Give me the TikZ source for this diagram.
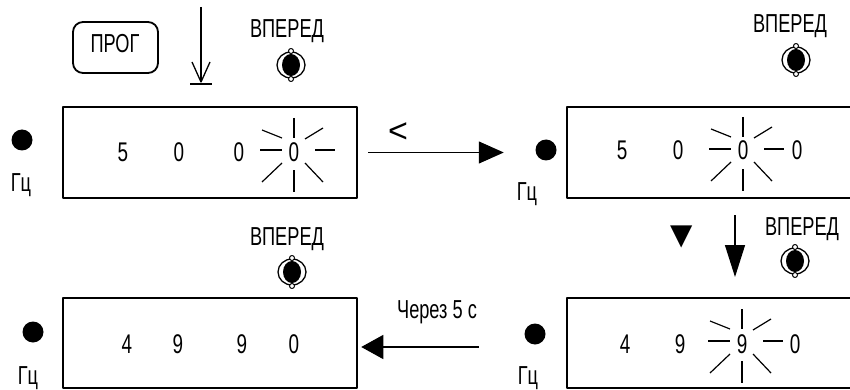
\documentclass[tikz,border=0pt]{standalone}
\usepackage{fontspec}
\setmainfont{Liberation Sans}[FakeStretch=0.7]
\newfontfamily\plainfont{Liberation Sans}
\newfontfamily\symfont{DejaVu Sans}
\usetikzlibrary{arrows.meta}
\newcommand\mysunburst[3]{%
  \begin{scope}[shift={(#1,#2)}, line width=1.2pt]
    \draw (0,-33) -- (0,-13);
    \draw (0,19) -- (0,41);
    \draw[line width=#3] (-34,-1) -- (-12,-1);
    \draw[line width=#3] (21,-1) -- (41,-1);
    \draw (-32,-21) -- (-12,-13);
    \draw (11,-12) -- (29,-23);
    \draw (-32,31) -- (-12,12);
    \draw (11,12) -- (29,31);
  \end{scope}}
\begin{document}
\begin{tikzpicture}[x=1pt,y=-1pt,line join=round,
  lbl/.style={inner sep=0pt,anchor=base,font=\fontsize{26}{30}\selectfont},
  dig/.style={inner sep=0pt,anchor=base,font=\fontsize{27}{30}\selectfont},
  disp/.style={draw,line width=2.5pt,rectangle,inner sep=0pt},
  led/.style={circle,fill,inner sep=0pt,minimum size=21pt},
  keybox/.style={draw,rounded corners=10pt,line width=1.8pt,minimum width=85pt,minimum height=51pt,inner sep=0pt},
  conn/.style={line width=1.3pt},
  vpbtn/.pic={
    \draw[line width=1.3pt] (0,0) ellipse (14pt and 13pt);
    \fill (0,0) ellipse (9pt and 11pt);
    \draw[line width=1pt,fill=white] (0,-14) circle (2.5pt);
    \draw[line width=1pt,fill=white] (0,14) circle (2.5pt);
  }]
\useasboundingbox (0,0) rectangle (850,390);
\clip (0,0) rectangle (850,390);
\fill[white] (0,0) rectangle (850,390);

% displays
\node[disp,minimum width=294pt,minimum height=91pt] (b1) at (210,152.5) {};
\node[disp,minimum width=313pt,minimum height=91pt] (b2) at (723.5,152.5) {};
\node[disp,minimum width=294pt,minimum height=90pt] (b3) at (210,343) {};
\node[disp,minimum width=313pt,minimum height=90pt] (b4) at (723.5,343) {};

% digits
\node[dig] (d11) at (123,161) {5};
\node[dig] (d12) at (179,161) {0};
\node[dig] (d13) at (239,161) {0};
\node[dig] (d14) at (294,161) {0};
\mysunburst{294}{151}{1.2pt}

\node[dig] (d21) at (622,160) {5};
\node[dig] (d22) at (678,160) {0};
\node[dig] (d23) at (743,160) {0};
\node[dig] (d24) at (797,160) {0};
\mysunburst{743}{150}{1.2pt}

\node[dig] (d31) at (127,353) {4};
\node[dig] (d32) at (178,353) {9};
\node[dig] (d33) at (242,353) {9};
\node[dig] (d34) at (294,353) {0};

\node[dig] (d41) at (625,353) {4};
\node[dig] (d42) at (680,353) {9};
\node[dig] (d43) at (742,353) {9};
\node[dig] (d44) at (795,353) {0};
\mysunburst{742}{342}{2.6pt}

% leds and Hz
\node[led] (l1) at (22,140) {};
\node[led] (l2) at (546,150) {};
\node[led] (l3) at (33,332) {};
\node[led] (l4) at (535,334) {};
\node[lbl] (h1) at (21,191) {Гц};
\node[lbl] (h2) at (527,200) {Гц};
\node[lbl] (h3) at (28,384) {Гц};
\node[lbl] (h4) at (528,384) {Гц};

% buttons
\node[lbl] (v1) at (287,38) {ВПЕРЕД};
\pic (bt1) at (291,65) {vpbtn};
\node[lbl] (v2) at (790,33) {ВПЕРЕД};
\pic (bt2) at (796,60) {vpbtn};
\node[lbl] (v3) at (287,245) {ВПЕРЕД};
\pic (bt3) at (292,272) {vpbtn};
\node[lbl] (v4) at (802,235) {ВПЕРЕД};
\pic (bt4) at (795,261) {vpbtn};

% PROG key
\node[keybox] (prog) at (115.5,47.5) {};
\node[lbl] (progt) at (115,53) {ПРОГ};

% press arrow
\coordinate (p1) at (201,7);
\coordinate (p2) at (201,82);
\draw[line width=1.3pt] (p1) -- (p2);
\draw[line width=1.3pt] (p2) ++(-9,-20) -- (p2) -- ++(9,-20);
\draw[line width=1.6pt] (p2) ++(-11,2) -- ++(22,0);

% arrow box1 -> box2
\draw[conn,-{Triangle[length=25pt,width=22pt]}] ([xshift=10pt]b1.east) -- ([xshift=-62pt]b2.west);
\node[inner sep=0pt,font=\plainfont\fontsize{34}{34}\selectfont] (lt) at (398,133) {<};

% down arrow
\node[inner sep=0pt,font=\symfont\fontsize{29}{29}\selectfont] (dn) at (681.5,237) {▼};
\coordinate (q1) at (735,215);
\coordinate (q2) at (735,277);
\draw[conn,-{Triangle[length=32pt,width=20pt]}] (q1) -- (q2);

% arrow box4 -> box3
\draw[conn,-{Triangle[length=22pt,width=24pt]}] ([xshift=-87pt,yshift=-4pt]b4.west) -- ([xshift=3pt,yshift=-4pt]b3.east);
\node[lbl] (t5) at (437,318) {Через 5 с};
\end{tikzpicture}
\end{document}
